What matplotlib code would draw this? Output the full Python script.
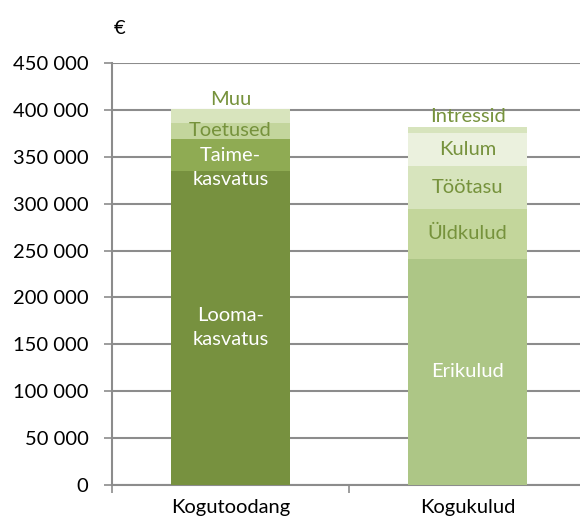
import matplotlib
matplotlib.use("Agg")
import matplotlib.pyplot as plt
import numpy as np

# ---------------------------------------------------------------------------
# 数据
# ---------------------------------------------------------------------------
categories = ["Kogutoodang", "Kogukulud"]

tulu_labels = ["Looma-\nkasvatus", "Taime-\nkasvatus", "Toetused", "Muu"]
tulu_values = [335000, 34000, 17000, 15000]

kulu_labels = ["Erikulud", "Üldkulud", "Töötasu", "Kulum", "Intressid"]
kulu_values = [241500, 53000, 46000, 35000, 6500]

y_ticks = [0, 50000, 100000, 150000, 200000, 250000, 300000, 350000, 400000, 450000]

# ---------------------------------------------------------------------------
# 样式
# ---------------------------------------------------------------------------
plt.rcParams["font.family"] = ["Lato", "DejaVu Sans"]
FS = 14.5
OLIVE = "#76923c"
GRID = "#8c8c8c"

tulu_colors = ["#77913f", "#8fab53", "#c3d59c", "#d8e4bd"]
tulu_text = ["white", "white", OLIVE, OLIVE]
tulu_dy = [0, -9, 0, 0]        # 标签竖直微调（points）
kulu_colors = ["#adc686", "#c3d69b", "#d7e4bd", "#ebf1de", "#d7e4bd"]
kulu_text = ["white", OLIVE, OLIVE, OLIVE, OLIVE]
kulu_dy = [0, 0, 0, 0, 0]

fig = plt.figure(figsize=(5.8, 5.19), dpi=100)
ax = fig.add_axes([112 / 580, 34 / 519, 474 / 580, 422 / 519])

bar_w = 0.506


def draw_stack(x, values, colors, labels, tcolors, dys):
    bottom = 0
    n = len(values)
    for i, (v, c, lab, tc, dy) in enumerate(zip(values, colors, labels, tcolors, dys)):
        ax.bar(x, v, bottom=bottom, width=bar_w, color=c, zorder=3)
        if i == n - 1:
            # 顶部细段：标签放在柱子上方
            ax.annotate(lab, (x, bottom + v), xytext=(0, 1), textcoords="offset points",
                        ha="center", va="bottom", color=tc, fontsize=FS, zorder=4)
        else:
            ax.annotate(lab, (x, bottom + v / 2), xytext=(0, dy), textcoords="offset points",
                        ha="center", va="center", color=tc, fontsize=FS,
                        linespacing=1.5, zorder=4)
        bottom += v


draw_stack(0, tulu_values, tulu_colors, tulu_labels, tulu_text, tulu_dy)
draw_stack(1, kulu_values, kulu_colors, kulu_labels, kulu_text, kulu_dy)

ax.set_xlim(-0.5, 1.5)
ax.set_ylim(0, 450000)
ax.set_yticks(y_ticks)
ax.set_yticklabels([f"{v:,}".replace(",", " ") for v in y_ticks], fontsize=FS)
ax.yaxis.grid(True, color=GRID, linewidth=1.5, zorder=0)
ax.tick_params(axis="y", length=6, width=1.2, color=GRID, pad=11)

ax.set_xticks([0, 1])
ax.set_xticklabels(categories, fontsize=FS)
ax.set_xticks([-0.5, 0.5, 1.5], minor=True)
ax.tick_params(axis="x", which="major", length=0, pad=10)
ax.tick_params(axis="x", which="minor", length=6, width=1.2, color=GRID)

for s in ["top", "right"]:
    ax.spines[s].set_visible(False)
for s in ["left", "bottom"]:
    ax.spines[s].set_color(GRID)
    ax.spines[s].set_linewidth(1.5)

fig.text(120 / 580, 1 - 28 / 519, "€", ha="center", va="center", fontsize=FS)

fig.savefig("out.png", dpi=100)
